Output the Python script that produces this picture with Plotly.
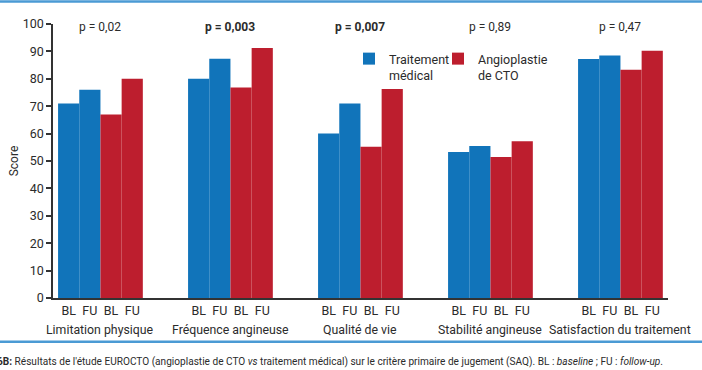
import plotly.graph_objects as go

groups = ["Limitation physique", "Fréquence angineuse", "Qualité de vie",
          "Stabilité angineuse", "Satisfaction du traitement"]
time_labels = ["BL", "FU"]
med_bl = [71, 80, 60, 53.3, 87.2]
med_fu = [76, 87.3, 71, 55.5, 88.5]
cto_bl = [67, 76.8, 55.2, 51.5, 83.3]
cto_fu = [80, 91.2, 76.3, 57.2, 90.2]
p_values = ["p = 0,02", "p = 0,003", "p = 0,007", "p = 0,89", "p = 0,47"]
p_bold = [False, True, True, False, False]
y_ticks = [0, 10, 20, 30, 40, 50, 60, 70, 80, 90, 100]

BLUE = "#1174ba"
RED = "#bd1e2e"
RULE = "#4a9ad4"
FONT = "Roboto"
TXT = "#2b2b2b"

W, H = 702, 370
ML, MR, MT, MB = 53, 34, 24, 72
pw = W - ML - MR
ph = H - MT - MB

bw = 0.163  # bar width in group units
offs = [-1.5 * bw, -0.5 * bw, 0.5 * bw, 1.5 * bw]

med_x, med_y, cto_x, cto_y = [], [], [], []
for g in range(len(groups)):
    med_x += [g + offs[0], g + offs[1]]
    med_y += [med_bl[g], med_fu[g]]
    cto_x += [g + offs[2], g + offs[3]]
    cto_y += [cto_bl[g], cto_fu[g]]

fig = go.Figure()
fig.add_bar(x=med_x, y=med_y, width=bw, name="Traitement<br>médical",
            marker=dict(color=BLUE, line=dict(width=0)), legend="legend")
fig.add_bar(x=cto_x, y=cto_y, width=bw, name="Angioplastie<br>de CTO",
            marker=dict(color=RED, line=dict(width=0)), legend="legend2")

tickvals, ticktext = [], []
for g in range(len(groups)):
    for k in range(4):
        tickvals.append(g + offs[k])
        ticktext.append(time_labels[k % 2])

x0 = -0.365
x1 = x0 + pw / 130.0

def py(p):
    return (298 - p) / ph

def px(p):
    return (p - ML) / pw

leg_common = dict(xanchor="left", yanchor="top", orientation="h", valign="top",
                  font=dict(family=FONT, size=12.5, color=TXT),
                  bgcolor="rgba(0,0,0,0)")

fig.update_layout(
    width=W, height=H,
    margin=dict(l=ML, r=MR, t=MT, b=MB, autoexpand=False),
    paper_bgcolor="white", plot_bgcolor="white",
    font=dict(family=FONT, size=12, color=TXT),
    barmode="overlay",
    showlegend=True,
    legend=dict(x=px(349), y=py(44), **leg_common),
    legend2=dict(x=px(438), y=py(44), **leg_common),
    xaxis=dict(range=[x0, x1], tickvals=tickvals, ticktext=ticktext, automargin=False,
               showgrid=False, zeroline=False, showline=True, linecolor="#333",
               linewidth=1.5, ticks="", tickfont=dict(size=12.5, color=TXT)),
    yaxis=dict(range=[0, 100], tickvals=y_ticks, showgrid=False, zeroline=False,
               automargin=False,
               showline=True, linecolor="#333", linewidth=1.5, ticks="outside",
               ticklen=5, tickcolor="#333", tickwidth=1.5,
               tickfont=dict(size=12.5, color=TXT),
               title=dict(text="Score", font=dict(size=12, color=TXT), standoff=1)),
)

for g, name in enumerate(groups):
    fig.add_annotation(x=g, y=py(330), xref="x", yref="paper", text=name,
                       showarrow=False, yanchor="middle",
                       font=dict(size=12.3, color=TXT))
    txt = f"<b>{p_values[g]}</b>" if p_bold[g] else p_values[g]
    fig.add_annotation(x=g, y=99, xref="x", yref="y", text=txt, showarrow=False,
                       yanchor="middle", font=dict(size=12, color=TXT))

fig.add_shape(type="line", xref="paper", yref="paper", x0=px(0), x1=px(W),
              y0=py(1.5), y1=py(1.5), line=dict(color=RULE, width=2.5))
fig.add_shape(type="line", xref="paper", yref="paper", x0=px(0), x1=px(W),
              y0=py(341.7), y1=py(341.7), line=dict(color=RULE, width=2.5))

caption = ("<b>6B:</b> Résultats de l'étude EUROCTO (angioplastie de CTO <i>vs</i> "
           "traitement médical) sur le critère primaire de jugement (SAQ). BL : "
           "<i>baseline</i> ; FU : <i>follow-up</i>.")
fig.add_annotation(x=px(-5), y=py(362), xref="paper", yref="paper", text=caption,
                   showarrow=False, xanchor="left", yanchor="middle",
                   font=dict(size=10.1, color=TXT))

fig.write_html("out.html", config={"displayModeBar": False},
               post_script="document.body.style.margin='0';"
               "document.body.style.overflow='hidden';")
